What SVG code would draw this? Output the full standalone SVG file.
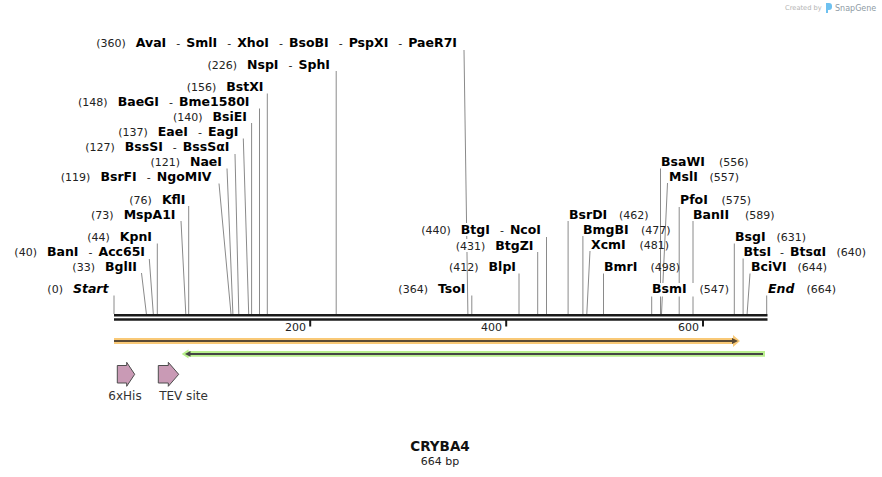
<svg xmlns="http://www.w3.org/2000/svg" width="882" height="477" viewBox="0 0 882 477">
<style>
text{font-family:"DejaVu Sans","Liberation Sans",sans-serif;fill:#111}
.n{font-size:11px;font-weight:normal;fill:#222}
.b{font-size:12.5px;font-weight:bold;fill:#000}
.i{font-style:italic}
.L{text-anchor:end}
.cn line{stroke:#8a8a8a;stroke-width:1}
.bg{fill:#fff}
.tk{font-size:11px;fill:#222;text-anchor:end}
.fl{font-size:12px;fill:#333;text-anchor:middle}
.pk{fill:#c99ab5;stroke:#4d4d4d;stroke-width:1}
</style>
<rect width="882" height="477" fill="#fff"/>

<!-- watermark -->
<g id="watermark">
<text x="785" y="10" style="font-size:6.7px;fill:#b4b4b4">Created by</text>
<path d="M826,3 h3 a3,3 0 0 1 3,3 v1 a3,3 0 0 1 -3,3 h-1 v3 h-2 z" fill="#6ec1f0"/>
<text x="835" y="11" style="font-size:8px;fill:#8e9aa4">SnapGene</text>
</g>

<!-- connectors -->
<g id="connectors" class="cn">
<line x1="464" y1="50" x2="467.9" y2="314"/>
<line x1="336.2" y1="71" x2="336.2" y2="314"/>
<line x1="267.3" y1="93.5" x2="267.3" y2="314"/>
<line x1="259.5" y1="108.5" x2="259.5" y2="314"/>
<line x1="251.6" y1="123" x2="251.6" y2="314"/>
<line x1="243.3" y1="138.5" x2="248.7" y2="314"/>
<line x1="235" y1="154" x2="238.8" y2="314"/>
<line x1="227" y1="168.5" x2="232.9" y2="314"/>
<line x1="219" y1="183.5" x2="231" y2="314"/>
<line x1="188.7" y1="206" x2="188.7" y2="314"/>
<line x1="181" y1="221" x2="185.8" y2="314"/>
<line x1="157.3" y1="243.5" x2="157.3" y2="314"/>
<line x1="149.3" y1="259" x2="153.3" y2="314"/>
<line x1="141.5" y1="273" x2="146.4" y2="314"/>
<line x1="114" y1="295.5" x2="114" y2="314"/>
<line x1="471.8" y1="295.5" x2="471.8" y2="314"/>
<line x1="519" y1="273.5" x2="519" y2="314"/>
<line x1="537.7" y1="252" x2="537.7" y2="314"/>
<line x1="546.5" y1="237" x2="546.5" y2="314"/>
<line x1="568.1" y1="221" x2="568.1" y2="314"/>
<line x1="582.9" y1="236" x2="582.9" y2="314"/>
<line x1="590" y1="251" x2="586.8" y2="314"/>
<line x1="603.5" y1="273.5" x2="603.5" y2="314"/>
<line x1="651.7" y1="296" x2="651.7" y2="314"/>
<line x1="660.5" y1="168.5" x2="660.5" y2="314"/>
<line x1="667.5" y1="183" x2="661.5" y2="314"/>
<line x1="679.2" y1="207" x2="679.2" y2="314"/>
<line x1="693" y1="221" x2="693" y2="314"/>
<line x1="734.3" y1="243.5" x2="734.3" y2="314"/>
<line x1="743.1" y1="258.5" x2="743.1" y2="314"/>
<line x1="750" y1="273.5" x2="747.1" y2="314"/>
<line x1="766.7" y1="295.5" x2="766.7" y2="314"/>
</g>

<!-- backbone -->
<g id="backbone">
<line x1="114" y1="315.3" x2="767.5" y2="315.3" stroke="#1a1a1a" stroke-width="2.4"/>
<line x1="114" y1="319.5" x2="767.5" y2="319.5" stroke="#1a1a1a" stroke-width="2.4"/>
<rect x="309.2" y="320" width="2" height="6.5" fill="#1a1a1a"/>
<rect x="505.2" y="320" width="2" height="6.5" fill="#1a1a1a"/>
<rect x="702" y="320" width="2" height="6.5" fill="#1a1a1a"/>
<text class="tk" x="306" y="331">200</text>
<text class="tk" x="502" y="331">400</text>
<text class="tk" x="699" y="331">600</text>
</g>

<!-- enzyme labels, left of site -->
<g id="site-360"><text class="L" x="457" y="46.5"><tspan class="n">(360)</tspan><tspan class="b" dx="10">AvaI</tspan><tspan class="n" dx="10">-</tspan><tspan class="b" dx="6">SmlI</tspan><tspan class="n" dx="10">-</tspan><tspan class="b" dx="6">XhoI</tspan><tspan class="n" dx="10">-</tspan><tspan class="b" dx="6">BsoBI</tspan><tspan class="n" dx="10">-</tspan><tspan class="b" dx="6">PspXI</tspan><tspan class="n" dx="10">-</tspan><tspan class="b" dx="6">PaeR7I</tspan></text></g>
<g id="site-226"><text class="L" x="330" y="68.5"><tspan class="n">(226)</tspan><tspan class="b" dx="10">NspI</tspan><tspan class="n" dx="10">-</tspan><tspan class="b" dx="6">SphI</tspan></text></g>
<g id="site-156"><text class="L" x="263.5" y="90.5"><tspan class="n">(156)</tspan><tspan class="b" dx="10">BstXI</tspan></text></g>
<g id="site-148"><text class="L" x="249.5" y="105.5"><tspan class="n">(148)</tspan><tspan class="b" dx="10">BaeGI</tspan><tspan class="n" dx="10">-</tspan><tspan class="b" dx="6">Bme1580I</tspan></text></g>
<g id="site-140"><text class="L" x="247" y="120.5"><tspan class="n">(140)</tspan><tspan class="b" dx="10">BsiEI</tspan></text></g>
<g id="site-137"><text class="L" x="238.5" y="135.5"><tspan class="n">(137)</tspan><tspan class="b" dx="10">EaeI</tspan><tspan class="n" dx="10">-</tspan><tspan class="b" dx="6">EagI</tspan></text></g>
<g id="site-127"><text class="L" x="229.5" y="150.5"><tspan class="n">(127)</tspan><tspan class="b" dx="10">BssSI</tspan><tspan class="n" dx="10">-</tspan><tspan class="b" dx="6">BssSαI</tspan></text></g>
<g id="site-121"><text class="L" x="222" y="165.5"><tspan class="n">(121)</tspan><tspan class="b" dx="10">NaeI</tspan></text></g>
<g id="site-119"><text class="L" x="211.5" y="180.5"><tspan class="n">(119)</tspan><tspan class="b" dx="10">BsrFI</tspan><tspan class="n" dx="10">-</tspan><tspan class="b" dx="6">NgoMIV</tspan></text></g>
<g id="site-76"><text class="L" x="185.5" y="203.5"><tspan class="n">(76)</tspan><tspan class="b" dx="10">KflI</tspan></text></g>
<g id="site-73"><text class="L" x="175.5" y="218.5"><tspan class="n">(73)</tspan><tspan class="b" dx="10">MspA1I</tspan></text></g>
<g id="site-44"><text class="L" x="152" y="240.5"><tspan class="n">(44)</tspan><tspan class="b" dx="10">KpnI</tspan></text></g>
<g id="site-40"><text class="L" x="145" y="256"><tspan class="n">(40)</tspan><tspan class="b" dx="10">BanI</tspan><tspan class="n" dx="10">-</tspan><tspan class="b" dx="6">Acc65I</tspan></text></g>
<g id="site-33"><text class="L" x="137" y="270.5"><tspan class="n">(33)</tspan><tspan class="b" dx="10">BglII</tspan></text></g>
<g id="site-0"><text class="L" x="108.5" y="293"><tspan class="n">(0)</tspan><tspan class="b i" dx="10">Start</tspan></text></g>
<g id="site-440"><rect class="bg" x="423" y="223" width="120" height="13"/><text class="L" x="541" y="234"><tspan class="n">(440)</tspan><tspan class="b" dx="10">BtgI</tspan><tspan class="n" dx="10">-</tspan><tspan class="b" dx="6">NcoI</tspan></text></g>
<g id="site-431"><rect class="bg" x="456" y="239" width="79" height="13"/><text class="L" x="533.5" y="249.5"><tspan class="n">(431)</tspan><tspan class="b" dx="10">BtgZI</tspan></text></g>
<g id="site-412"><text class="L" x="516" y="270.5"><tspan class="n">(412)</tspan><tspan class="b" dx="10">BlpI</tspan></text></g>
<g id="site-364"><text class="L" x="465.5" y="293"><tspan class="n">(364)</tspan><tspan class="b" dx="10">TsoI</tspan></text></g>

<!-- enzyme labels, right of site -->
<g id="site-462"><text class="b" x="569" y="218.5">BsrDI</text><text class="n L" x="648.5" y="218.5">(462)</text></g>
<g id="site-477"><text class="b" x="583" y="233.5">BmgBI</text><text class="n L" x="670.5" y="233.5">(477)</text></g>
<g id="site-481"><text class="b" x="591" y="249">XcmI</text><text class="n L" x="669" y="249">(481)</text></g>
<g id="site-498"><text class="b" x="604" y="270.5">BmrI</text><text class="n L" x="680" y="270.5">(498)</text></g>
<g id="site-547"><rect class="bg" x="650" y="283" width="82" height="13.5"/><text class="b" x="652" y="293">BsmI</text><text class="n L" x="729" y="293">(547)</text></g>
<g id="site-556"><text class="b" x="661" y="165.5">BsaWI</text><text class="n L" x="748.5" y="165.5">(556)</text></g>
<g id="site-557"><text class="b" x="669" y="180.5">MslI</text><text class="n L" x="739" y="180.5">(557)</text></g>
<g id="site-575"><text class="b" x="680" y="204">PfoI</text><text class="n L" x="751" y="204">(575)</text></g>
<g id="site-589"><text class="b" x="693" y="218.5">BanII</text><text class="n L" x="774.5" y="218.5">(589)</text></g>
<g id="site-631"><text class="b" x="735" y="240.5">BsgI</text><text class="n L" x="806" y="240.5">(631)</text></g>
<g id="site-640"><text x="743.5" y="255.5"><tspan class="b">BtsI</tspan><tspan class="n" dx="9">-</tspan><tspan class="b" dx="6">BtsαI</tspan></text><text class="n L" x="866" y="255.5">(640)</text></g>
<g id="site-644"><text class="b" x="751" y="270.5">BciVI</text><text class="n L" x="827" y="270.5">(644)</text></g>
<g id="site-664"><text class="b i" x="768" y="293">End</text><text class="n L" x="836" y="293">(664)</text></g>

<!-- features -->
<g id="feature-orange">
<path d="M114,338 H733 V335 L740,341 L733,347 V344 H114 Z" fill="#f9c977"/>
<line x1="114" y1="341" x2="733" y2="341" stroke="#5a4a35" stroke-width="2"/>
<path d="M732,338 L738,341 L732,344 Z" fill="#5a4a35"/>
</g>
<g id="feature-green">
<path d="M765,351 H188.5 V349.3 L181.7,353.9 L188.5,358.5 V356.8 H765 Z" fill="#b9f08e"/>
<line x1="190" y1="353.9" x2="763" y2="353.9" stroke="#454545" stroke-width="2"/>
<path d="M190.5,351 L185,353.9 L190.5,356.8 Z" fill="#454545"/>
</g>
<g id="feature-6xHis">
<path class="pk" d="M117.3,365.5 H126.7 V362.3 L134.7,374.3 L126.7,386.3 V383 H117.3 Z"/>
<text class="fl" x="125" y="399.5">6xHis</text>
</g>
<g id="feature-TEV">
<path class="pk" d="M158.3,365.5 H168.3 V362.3 L178.7,374.3 L168.3,386.3 V383 H158.3 Z"/>
<text class="fl" x="183.5" y="399.5">TEV site</text>
</g>

<!-- title -->
<g id="title">
<text x="440" y="450.5" style="font-size:13.5px;font-weight:bold;text-anchor:middle;fill:#111">CRYBA4</text>
<text x="440" y="465" style="font-size:11px;text-anchor:middle;fill:#222">664 bp</text>
</g>
</svg>
